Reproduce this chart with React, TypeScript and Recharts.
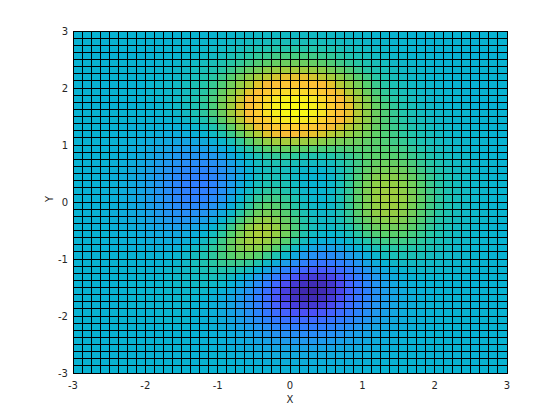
import React from "react";
import { ScatterChart, Scatter, XAxis, YAxis } from "recharts";

const xTicks = [-3, -2, -1, 0, 1, 2, 3];
const yTicks = [-3, -2, -1, 0, 1, 2, 3];
const cellLowerEdges = [
  -3, -2.875, -2.75, -2.625, -2.5, -2.375, -2.25, -2.125, -2, -1.875, -1.75, -1.625,
  -1.5, -1.375, -1.25, -1.125, -1, -0.875, -0.75, -0.625, -0.5, -0.375, -0.25, -0.125,
  0, 0.125, 0.25, 0.375, 0.5, 0.625, 0.75, 0.875, 1, 1.125, 1.25, 1.375,
  1.5, 1.625, 1.75, 1.875, 2, 2.125, 2.25, 2.375, 2.5, 2.625, 2.75, 2.875,
];

// Cell values in tenths, top row of the picture first, read against the colour scale.
const zRows = [
  [0,0,0,0,0,0,0,0,0,0,0,0,1,1,1,1,2,2,3,3,4,4,5,5,5,5,5,4,4,3,3,2,2,1,1,1,1,0,0,0,0,0,0,0,0,0,0,0],
  [0,0,0,0,0,0,0,0,0,0,0,1,1,1,2,2,3,4,5,6,6,7,8,8,8,8,8,7,6,6,5,4,3,2,2,1,1,1,0,0,0,0,0,0,0,0,0,0],
  [0,0,0,0,0,0,0,0,0,0,1,1,1,2,3,4,5,6,7,9,10,11,12,12,13,12,12,11,10,9,7,6,5,4,3,2,1,1,1,0,0,0,0,0,0,0,0,0],
  [0,0,0,0,0,0,0,0,0,1,1,1,2,3,4,5,7,9,11,13,15,16,18,19,19,19,18,16,15,13,11,9,7,5,4,3,2,1,1,1,0,0,0,0,0,0,0,0],
  [0,0,0,0,0,0,0,0,0,1,1,2,3,4,6,8,10,13,15,18,21,23,25,26,27,26,25,23,21,18,15,13,10,8,6,4,3,2,1,1,0,0,0,0,0,0,0,0],
  [0,0,0,0,0,0,0,0,1,1,2,3,4,6,8,10,13,17,21,25,28,32,34,36,37,36,34,32,28,25,21,17,13,10,8,6,4,3,2,1,1,0,0,0,0,0,0,0],
  [0,0,0,0,0,0,0,0,1,1,2,3,5,7,10,13,17,22,27,32,37,41,44,47,47,47,44,41,37,32,27,22,18,13,10,7,5,3,2,1,1,0,0,0,0,0,0,0],
  [0,0,0,0,0,0,0,0,1,2,3,4,6,9,12,16,21,27,33,40,46,51,55,58,59,58,55,51,46,40,34,28,22,17,13,9,7,4,3,2,1,0,0,0,0,0,0,0],
  [0,0,0,0,0,0,0,0,1,2,3,4,6,9,13,18,25,31,39,46,54,60,65,68,69,68,65,60,54,47,40,33,26,20,15,11,8,6,4,3,2,1,1,0,0,0,0,0],
  [0,0,0,0,0,0,0,0,1,1,3,4,7,10,15,20,27,35,43,52,60,67,72,75,77,75,72,67,60,52,44,37,30,23,17,13,10,7,5,3,2,1,1,0,0,0,0,0],
  [0,0,0,0,0,0,0,0,0,1,2,4,6,10,14,20,28,36,45,54,63,70,76,79,81,79,76,70,63,55,47,38,32,25,20,15,11,8,5,4,2,1,1,1,0,0,0,0],
  [0,0,0,0,0,0,0,0,0,1,2,3,5,9,14,20,26,35,43,53,62,70,75,79,80,79,76,71,62,54,47,40,32,26,21,16,12,9,6,4,3,2,1,1,0,0,0,0],
  [0,0,0,0,0,0,0,-1,-1,-1,0,1,3,6,10,16,23,31,40,49,58,64,70,73,74,73,70,65,58,52,45,38,32,26,21,16,13,9,7,5,3,2,1,1,0,0,0,0],
  [0,0,0,0,-1,-1,-2,-2,-2,-2,-2,-2,-1,2,5,10,17,24,33,41,49,55,60,63,64,62,59,55,50,45,40,35,30,25,21,17,14,11,8,6,4,3,2,1,1,0,0,0],
  [0,0,0,-1,-1,-1,-2,-3,-3,-4,-5,-5,-4,-3,0,4,10,17,24,32,39,45,49,51,51,49,47,44,40,37,33,30,27,24,21,18,14,12,9,7,5,3,2,1,1,1,0,0],
  [0,0,0,-1,-1,-2,-3,-4,-5,-6,-7,-8,-9,-8,-6,-3,2,8,15,22,28,33,36,37,37,35,33,31,29,28,27,26,24,23,21,18,16,13,10,8,6,4,3,2,1,1,0,0],
  [0,0,-1,-1,-2,-2,-4,-5,-6,-8,-10,-12,-13,-13,-12,-9,-5,0,7,13,18,22,24,25,24,23,21,20,20,20,21,22,22,22,22,20,18,15,12,9,7,5,3,2,1,1,0,0],
  [0,0,-1,-1,-2,-3,-4,-6,-8,-11,-13,-16,-18,-18,-18,-16,-12,-6,0,5,10,14,15,16,14,13,11,11,12,14,16,19,22,23,23,22,20,17,14,11,8,6,4,3,2,1,1,0],
  [0,0,-1,-1,-2,-3,-5,-7,-10,-13,-16,-19,-22,-23,-23,-21,-17,-11,-5,1,6,9,10,10,8,6,5,5,6,10,14,18,22,25,26,25,23,20,16,13,10,7,5,3,2,1,1,0],
  [0,-1,-1,-2,-2,-3,-6,-8,-11,-15,-18,-22,-25,-26,-26,-24,-20,-14,-8,-1,4,7,8,7,5,2,1,1,4,8,13,19,24,27,28,28,26,22,18,14,11,8,5,4,2,1,1,0],
  [0,-1,-1,-2,-3,-4,-6,-9,-12,-16,-20,-24,-27,-29,-29,-26,-22,-15,-8,-1,5,8,8,7,4,1,0,0,3,8,14,20,26,30,31,31,28,25,20,16,12,9,6,4,3,2,1,1],
  [0,-1,-1,-2,-3,-5,-7,-10,-13,-17,-22,-26,-29,-30,-30,-27,-21,-14,-6,1,7,10,10,9,5,2,0,0,3,8,15,22,28,32,34,33,31,27,22,17,13,9,6,4,3,2,1,1],
  [0,-1,-1,-2,-3,-5,-7,-10,-13,-18,-22,-26,-29,-30,-29,-26,-20,-12,-3,4,10,14,14,11,7,3,1,1,3,9,15,23,29,33,35,35,32,28,23,18,14,10,7,5,3,2,1,1],
  [0,-1,-1,-2,-3,-5,-7,-10,-13,-17,-21,-25,-28,-29,-27,-23,-17,-8,1,9,15,18,18,15,10,5,2,1,4,9,16,23,29,34,36,35,33,29,24,19,14,10,7,5,3,2,1,1],
  [0,-1,-1,-2,-3,-4,-7,-9,-13,-16,-20,-23,-25,-25,-23,-19,-12,-3,6,14,20,23,22,18,13,7,4,2,4,9,16,23,29,33,35,35,32,28,23,18,14,10,7,5,3,2,1,1],
  [0,-1,-1,-2,-3,-4,-6,-8,-11,-15,-18,-20,-22,-21,-18,-13,-6,3,13,20,26,28,26,22,16,10,5,3,5,9,15,22,28,32,34,33,31,27,22,18,13,10,7,4,3,2,1,1],
  [0,-1,-1,-2,-2,-4,-5,-7,-10,-12,-15,-17,-17,-16,-12,-7,1,10,19,26,31,33,30,25,19,12,7,4,5,8,14,20,25,29,31,31,29,25,21,16,12,9,6,4,3,2,1,1],
  [0,0,-1,-1,-2,-3,-4,-6,-8,-10,-12,-13,-12,-10,-6,0,8,17,25,32,36,36,33,27,20,13,7,4,4,7,11,17,22,26,28,27,26,23,19,15,11,8,5,4,2,1,1,0],
  [0,0,-1,-1,-2,-2,-3,-5,-6,-7,-8,-8,-7,-4,0,6,14,22,29,35,38,37,33,27,19,11,5,2,1,3,7,13,18,21,23,23,22,19,16,13,10,7,5,3,2,1,1,0],
  [0,0,0,-1,-1,-2,-2,-3,-4,-5,-5,-5,-3,0,5,11,18,25,31,35,36,34,29,22,14,6,0,-3,-4,-2,2,7,12,16,18,19,18,16,14,11,8,6,4,3,2,1,1,0],
  [0,0,0,-1,-1,-1,-2,-2,-3,-3,-3,-2,1,4,8,14,19,25,29,32,31,28,22,14,5,-3,-9,-12,-12,-10,-5,0,5,9,12,13,13,12,11,9,7,5,3,2,1,1,1,0],
  [0,0,0,-1,0,0,-1,-1,-1,-1,0,1,3,6,10,14,19,22,25,25,22,17,10,2,-7,-15,-20,-23,-22,-19,-14,-9,-3,2,6,8,9,9,8,6,5,4,3,2,1,1,0,0],
  [0,0,0,0,0,0,0,0,0,0,1,2,4,7,10,13,16,17,17,15,11,4,-4,-13,-22,-29,-33,-35,-33,-29,-24,-17,-10,-5,0,3,5,5,5,4,4,3,2,1,1,0,0,0],
  [0,0,0,0,0,0,0,1,0,1,2,3,4,6,8,10,11,11,9,5,-1,-9,-18,-28,-36,-42,-46,-46,-44,-39,-32,-25,-17,-11,-6,-2,1,2,3,3,2,2,1,1,0,0,0,0],
  [0,0,0,0,0,0,0,1,1,1,2,3,4,5,6,7,6,4,0,-5,-13,-22,-31,-40,-48,-54,-56,-56,-52,-47,-39,-31,-23,-16,-10,-5,-2,0,1,1,1,1,1,0,0,0,0,0],
  [0,0,0,0,0,0,1,1,1,1,2,3,3,4,4,3,2,-2,-7,-14,-22,-31,-41,-50,-57,-61,-63,-62,-58,-51,-43,-35,-26,-19,-13,-8,-4,-2,-1,0,0,0,0,0,0,0,0,0],
  [0,0,0,0,0,0,1,1,1,1,2,2,2,2,2,0,-2,-6,-12,-19,-28,-37,-46,-54,-61,-64,-66,-63,-59,-52,-44,-36,-28,-20,-14,-9,-6,-3,-2,-1,0,0,0,0,0,0,0,0],
  [0,0,0,0,0,0,1,1,1,1,1,2,2,1,0,-2,-5,-9,-15,-22,-30,-39,-47,-54,-60,-63,-63,-61,-56,-50,-42,-35,-27,-20,-14,-10,-6,-4,-2,-1,0,0,0,0,0,0,0,0],
  [0,0,0,0,0,0,1,1,1,1,1,1,1,0,-1,-3,-6,-10,-16,-22,-29,-37,-44,-50,-55,-57,-57,-55,-51,-45,-38,-31,-25,-18,-13,-9,-6,-4,-2,-1,0,0,0,0,0,0,0,0],
  [0,0,0,0,0,0,0,0,0,1,1,1,0,0,-1,-3,-6,-10,-14,-20,-26,-33,-39,-44,-48,-49,-49,-47,-44,-39,-33,-27,-21,-16,-12,-8,-5,-3,-2,-1,-1,0,0,0,0,0,0,0],
  [0,0,0,0,0,0,0,0,0,1,1,1,1,0,-1,-2,-5,-8,-12,-17,-22,-27,-32,-36,-39,-40,-40,-38,-35,-31,-27,-22,-17,-13,-10,-7,-5,-3,-2,-1,-1,0,0,0,0,0,0,0],
  [0,0,0,0,0,0,0,0,0,0,0,0,0,0,-1,-2,-4,-7,-10,-13,-17,-21,-25,-28,-30,-31,-31,-30,-27,-24,-21,-17,-13,-10,-8,-6,-4,-3,-2,-1,-1,0,0,0,0,0,0,0],
  [0,0,0,0,0,0,0,0,0,0,0,0,0,0,-1,-2,-3,-5,-7,-10,-13,-16,-19,-21,-22,-23,-23,-22,-20,-18,-15,-12,-10,-8,-6,-4,-3,-2,-1,-1,0,0,0,0,0,0,0,0],
  [0,0,0,0,0,0,0,0,0,0,0,0,0,0,-1,-1,-2,-4,-5,-7,-9,-11,-13,-15,-16,-16,-16,-15,-14,-12,-11,-9,-7,-5,-4,-3,-2,-1,-1,0,0,0,0,0,0,0,0,0],
  [0,0,0,0,0,0,0,0,0,0,0,0,0,0,0,-1,-2,-2,-4,-5,-6,-8,-9,-10,-11,-11,-11,-10,-10,-8,-7,-6,-5,-4,-3,-2,-1,-1,-1,0,0,0,0,0,0,0,0,0],
  [0,0,0,0,0,0,0,0,0,0,0,0,0,0,0,0,-1,-2,-2,-3,-4,-5,-6,-6,-7,-7,-7,-7,-6,-5,-5,-4,-3,-2,-2,-1,-1,0,0,0,0,0,0,0,0,0,0,0],
  [0,0,0,0,0,0,0,0,0,0,0,0,0,0,0,0,0,0,-1,-2,-2,-3,-3,-4,-4,-4,-4,-4,-4,-3,-3,-2,-2,-1,-1,-1,0,0,0,0,0,0,0,0,0,0,0,0],
  [0,0,0,0,0,0,0,0,0,0,0,0,0,0,0,0,0,0,0,-1,-1,-1,-2,-2,-2,-3,-3,-2,-2,-2,-2,-1,-1,-1,0,0,0,0,0,0,0,0,0,0,0,0,0,0],
];

const cellStep = 0.125;
const zMin = -65.5;
const zMax = 81;

const colourStops: [number, number, number, number][] = [
  [0, 62, 38, 168],
  [0.08, 72, 65, 225],
  [0.11, 75, 80, 245],
  [0.15, 68, 100, 255],
  [0.24, 48, 125, 255],
  [0.33, 35, 150, 240],
  [0.4, 18, 168, 222],
  [0.447, 8, 178, 210],
  [0.53, 35, 196, 170],
  [0.6, 88, 206, 110],
  [0.67, 145, 206, 70],
  [0.72, 180, 203, 55],
  [0.76, 225, 195, 45],
  [0.8, 250, 188, 58],
  [0.88, 253, 205, 50],
  [0.95, 245, 235, 35],
  [1, 249, 251, 20],
];

function colourOf(tenths: number) {
  const t = Math.min(1, Math.max(0, (tenths - zMin) / (zMax - zMin)));
  for (let k = 1; k < colourStops.length; k++) {
    const b = colourStops[k];
    if (t <= b[0]) {
      const a = colourStops[k - 1];
      const u = (t - a[0]) / (b[0] - a[0]);
      const c = [1, 2, 3].map((n) => Math.round(a[n] + (b[n] - a[n]) * u));
      return `rgb(${c[0]},${c[1]},${c[2]})`;
    }
  }
  return "rgb(249,251,20)";
}

const cells = zRows.flatMap((row, r) =>
  row.map((z, c) => ({
    x: cellLowerEdges[c] + cellStep / 2,
    y: cellLowerEdges[zRows.length - 1 - r] + cellStep / 2,
    z,
  }))
);

const W = 560;
const H = 420;
const PLOT_LEFT = 73;
const PLOT_TOP = 31;
const PLOT_W = 434;
const PLOT_H = 342;
const CELL_W = PLOT_W / cellLowerEdges.length;
const CELL_H = PLOT_H / zRows.length;

function Cell(props: any) {
  const { cx, cy, payload } = props;
  return (
    <rect
      x={cx - CELL_W / 2}
      y={cy - CELL_H / 2}
      width={CELL_W}
      height={CELL_H}
      fill={colourOf(payload.z)}
      stroke="#000"
      strokeWidth={1}
      shapeRendering="crispEdges"
    />
  );
}

const tickStyle = { fontSize: 10, fill: "#262626", fontFamily: "DejaVu Sans" };

export default function App() {
  return (
    <div style={{ position: "absolute", left: 0, top: 0, width: W, height: H, background: "#fff" }}>
      <ScatterChart
        width={W}
        height={H}
        margin={{ top: PLOT_TOP, right: W - PLOT_LEFT - PLOT_W, bottom: 0, left: 0 }}
      >
        <XAxis
          type="number"
          dataKey="x"
          domain={[-3, 3]}
          ticks={xTicks}
          height={H - PLOT_TOP - PLOT_H}
          axisLine={false}
          tickLine={false}
          tickSize={0}
          tick={tickStyle}
          tickMargin={9}
          label={{ value: "X", position: "insideBottom", offset: 17, style: tickStyle }}
        />
        <YAxis
          type="number"
          dataKey="y"
          domain={[-3, 3]}
          ticks={yTicks}
          width={PLOT_LEFT}
          axisLine={false}
          tickLine={false}
          tickSize={0}
          tick={tickStyle}
          tickMargin={5}
          label={{ value: "Y", angle: -90, position: "insideLeft", offset: 49, style: tickStyle }}
        />
        <Scatter data={cells} shape={Cell} isAnimationActive={false} />
      </ScatterChart>
    </div>
  );
}
